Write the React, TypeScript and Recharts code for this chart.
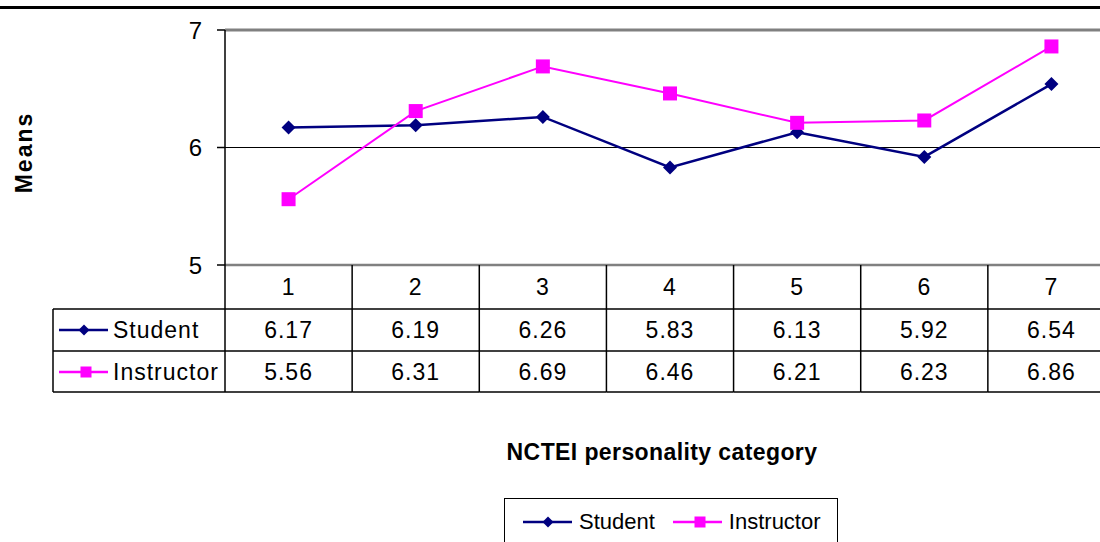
import { LineChart, Line, XAxis, YAxis, ReferenceLine, Legend } from 'recharts';

const categories = ['1', '2', '3', '4', '5', '6', '7'];
const studentMeans = [6.17, 6.19, 6.26, 5.83, 6.13, 5.92, 6.54];
const instructorMeans = [5.56, 6.31, 6.69, 6.46, 6.21, 6.23, 6.86];
const seriesNames = ['Student', 'Instructor'];
const yTicks = [5, 6, 7];

const data = categories.map((c, i) => ({
  category: c,
  Student: studentMeans[i],
  Instructor: instructorMeans[i],
}));

const FONT = '"Liberation Sans", Arial, sans-serif';
const NAVY = '#000080';
const MAGENTA = '#FF00FF';

const CHART_W = 1120;
const CHART_H = 542;
const Y_AXIS_W = 225;
const MARGIN_RIGHT = 5;
const PLOT_W = CHART_W - Y_AXIS_W - MARGIN_RIGHT;
const BAND = PLOT_W / categories.length;
const TABLE_H = 127;
const ROW1 = 44;
const ROW2 = 86;
const LEFT_COL_W = 172;

function Diamond({ cx, cy, r, color }: { cx: number; cy: number; r: number; color: string }) {
  return <path d={`M${cx},${cy - r}L${cx + r},${cy}L${cx},${cy + r}L${cx - r},${cy}Z`} fill={color} />;
}

function Square({ cx, cy, r, color }: { cx: number; cy: number; r: number; color: string }) {
  return <rect x={cx - r} y={cy - r} width={r * 2} height={r * 2} fill={color} />;
}

// series key used in the table's left column and the legend
function KeyIcon({ x, y, kind }: { x: number; y: number; kind: 'student' | 'instructor' }) {
  const color = kind === 'student' ? NAVY : MAGENTA;
  return (
    <g>
      <line x1={x} y1={y} x2={x + 49} y2={y} stroke={color} strokeWidth={2.5} />
      {kind === 'student'
        ? <Diamond cx={x + 25} cy={y} r={5.5} color={color} />
        : <Square cx={x + 27} cy={y} r={5.5} color={color} />}
    </g>
  );
}

// each x tick draws one column of the data table under the plot
function TableTick(props: any) {
  const { x, y, payload } = props;
  const i = payload.index;
  const left = x - BAND / 2;
  const right = x + BAND / 2;
  const textStyle = { fontFamily: FONT, fontSize: 23, letterSpacing: 1 };
  return (
    <g>
      <line x1={left} y1={y} x2={left} y2={y + TABLE_H} stroke="#000" strokeWidth={1.5} />
      {i === categories.length - 1 && (
        <line x1={right} y1={y} x2={right} y2={y + TABLE_H} stroke="#000" strokeWidth={1.5} />
      )}
      <line x1={left} y1={y + ROW1} x2={right} y2={y + ROW1} stroke="#000" strokeWidth={1.5} />
      <line x1={left} y1={y + ROW2} x2={right} y2={y + ROW2} stroke="#000" strokeWidth={1.5} />
      <line x1={left} y1={y + TABLE_H} x2={right} y2={y + TABLE_H} stroke="#000" strokeWidth={1.5} />
      <text x={x} y={y + 22} textAnchor="middle" dominantBaseline="central" style={textStyle}>{payload.value}</text>
      <text x={x} y={y + 65} textAnchor="middle" dominantBaseline="central" style={textStyle}>
        {studentMeans[i].toFixed(2)}
      </text>
      <text x={x} y={y + 107} textAnchor="middle" dominantBaseline="central" style={textStyle}>
        {instructorMeans[i].toFixed(2)}
      </text>
      {i === 0 && (
        <g>
          <line x1={left - LEFT_COL_W} y1={y + ROW1} x2={left} y2={y + ROW1} stroke="#000" strokeWidth={1.5} />
          <line x1={left - LEFT_COL_W} y1={y + ROW2} x2={left} y2={y + ROW2} stroke="#000" strokeWidth={1.5} />
          <line x1={left - LEFT_COL_W} y1={y + TABLE_H} x2={left} y2={y + TABLE_H} stroke="#000" strokeWidth={1.5} />
          <line x1={left - LEFT_COL_W} y1={y + ROW1} x2={left - LEFT_COL_W} y2={y + TABLE_H} stroke="#000" strokeWidth={1.5} />
          <KeyIcon x={left - LEFT_COL_W + 6} y={y + 65} kind="student" />
          <text x={left - LEFT_COL_W + 60} y={y + 65} dominantBaseline="central" style={textStyle}>Student</text>
          <KeyIcon x={left - LEFT_COL_W + 6} y={y + 107} kind="instructor" />
          <text x={left - LEFT_COL_W + 60} y={y + 107} dominantBaseline="central" style={textStyle}>Instructor</text>
        </g>
      )}
    </g>
  );
}

function LegendBox({ payload }: any) {
  const items = [...(payload || [])].sort(
    (a: any, b: any) => seriesNames.indexOf(a.value) - seriesNames.indexOf(b.value),
  );
  return (
    <div
      style={{
        border: '1.5px solid #000',
        boxSizing: 'border-box',
        width: '100%',
        height: '100%',
        display: 'flex',
        alignItems: 'flex-start',
        paddingTop: 10,
        paddingLeft: 17,
        fontFamily: FONT,
        fontSize: 22,
        gap: 17,
      }}
    >
      {items.map((p: any) => (
        <div key={p.value} style={{ display: 'flex', alignItems: 'center' }}>
          <svg width={52} height={24}>
            <KeyIcon x={1} y={12} kind={p.value === 'Student' ? 'student' : 'instructor'} />
          </svg>
          <span style={{ marginLeft: 5 }}>{p.value}</span>
        </div>
      ))}
    </div>
  );
}

export default function App() {
  return (
    <div style={{ position: 'absolute', left: 0, top: 0, width: 1100, height: 542, overflow: 'hidden', background: '#fff' }}>
      <div style={{ position: 'absolute', left: 0, top: 6, width: 1100, height: 2.5, background: '#000' }} />
      <LineChart
        width={CHART_W}
        height={CHART_H}
        data={data}
        margin={{ top: 30, right: MARGIN_RIGHT, left: 0, bottom: 150 }}
      >
        <XAxis
          dataKey="category"
          height={TABLE_H}
          padding={{ left: BAND / 2, right: BAND / 2 }}
          axisLine={{ stroke: '#808080', strokeWidth: 2.5 }}
          tickLine={false}
          tickSize={0}
          tickMargin={0}
          interval={0}
          tick={<TableTick />}
          label={{
            content: ({ viewBox }: any) => (
              <text
                x={viewBox.x + viewBox.width / 2 - 8}
                y={viewBox.y + viewBox.height + 60}
                textAnchor="middle"
                dominantBaseline="central"
                style={{ fontFamily: FONT, fontSize: 23, fontWeight: 'bold', letterSpacing: 0.4 }}
              >
                NCTEI personality category
              </text>
            ),
          }}
        />
        <YAxis
          domain={[5, 7]}
          ticks={yTicks}
          width={Y_AXIS_W}
          axisLine={{ stroke: '#000', strokeWidth: 1.5 }}
          tickLine={{ stroke: '#000', strokeWidth: 1.5 }}
          tickSize={8}
          tickMargin={15}
          tick={{ fill: '#000', fontSize: 24, fontFamily: FONT }}
          label={{
            content: ({ viewBox }: any) => {
              const cx = 24;
              const cy = viewBox.y + viewBox.height / 2 + 5;
              return (
                <text
                  x={cx}
                  y={cy}
                  transform={`rotate(-90 ${cx} ${cy})`}
                  textAnchor="middle"
                  dominantBaseline="central"
                  style={{ fontFamily: FONT, fontSize: 23, fontWeight: 'bold', letterSpacing: 2 }}
                >
                  Means
                </text>
              );
            },
          }}
        />
        <ReferenceLine y={7} stroke="#808080" strokeWidth={3} />
        <ReferenceLine y={6} stroke="#000" strokeWidth={1.2} />
        <Legend
          layout="horizontal"
          verticalAlign="middle"
          content={<LegendBox />}
          wrapperStyle={{ left: 504, top: 498, width: 334, height: 50 }}
        />
        <Line
          dataKey="Student"
          stroke={NAVY}
          strokeWidth={2.5}
          isAnimationActive={false}
          dot={(p: any) => <Diamond key={`s${p.index}`} cx={p.cx} cy={p.cy} r={7} color={NAVY} />}
        />
        <Line
          dataKey="Instructor"
          stroke={MAGENTA}
          strokeWidth={2}
          isAnimationActive={false}
          dot={(p: any) => <Square key={`i${p.index}`} cx={p.cx} cy={p.cy} r={7} color={MAGENTA} />}
        />
      </LineChart>
    </div>
  );
}
